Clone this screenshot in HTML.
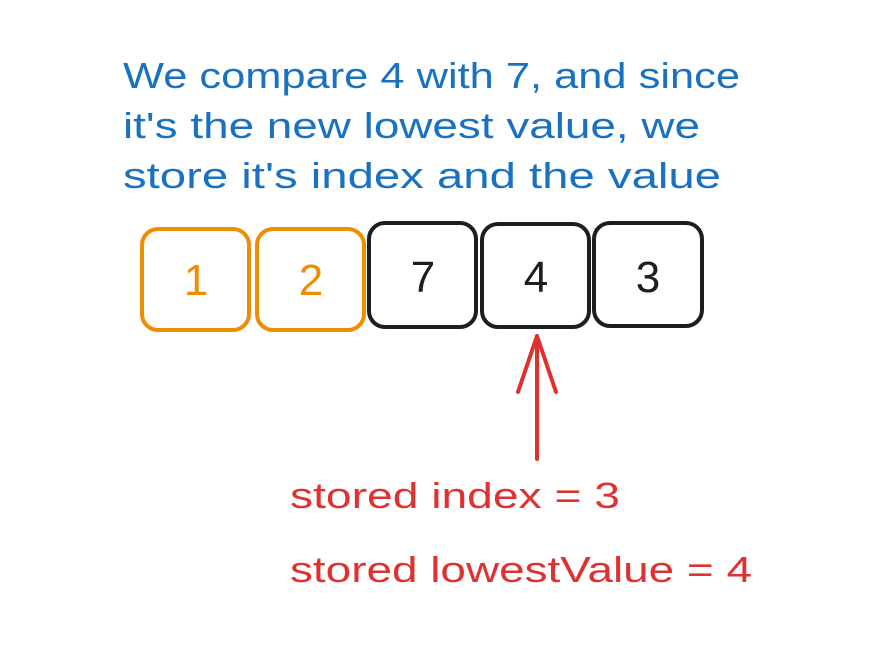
<!DOCTYPE html>
<html><head><style>html,body{margin:0;padding:0;background:#fff}svg{display:block}</style></head>
<body>
<svg width="876" height="654" viewBox="0 0 876 654" xmlns="http://www.w3.org/2000/svg">
<rect width="876" height="654" fill="#fff"/>
<g font-family="Liberation Sans, sans-serif" fill="#1971c2" font-size="36">
<text x="123" y="88" textLength="617" lengthAdjust="spacingAndGlyphs">We compare 4 with 7, and since</text>
<text x="123" y="138" textLength="577" lengthAdjust="spacingAndGlyphs">it's the new lowest value, we</text>
<text x="123" y="188" textLength="598" lengthAdjust="spacingAndGlyphs">store it's index and the value</text>
</g>
<g fill="none" stroke-width="4">
<rect x="142" y="229" width="107" height="101" rx="16" stroke="#f08c00"/>
<rect x="257" y="229" width="107" height="101" rx="16" stroke="#f08c00"/>
<rect x="369" y="223" width="107" height="104" rx="16" stroke="#1e1e1e"/>
<rect x="482" y="224" width="107" height="103" rx="16" stroke="#1e1e1e"/>
<rect x="594" y="223" width="108" height="103" rx="16" stroke="#1e1e1e"/>
</g>
<g font-family="Liberation Sans, sans-serif" font-size="44" text-anchor="middle">
<text x="196" y="295" fill="#f08c00">1</text>
<text x="311" y="295" fill="#f08c00">2</text>
<text x="423" y="292" fill="#1e1e1e">7</text>
<text x="536" y="292" fill="#1e1e1e">4</text>
<text x="648" y="292" fill="#1e1e1e">3</text>
</g>
<g stroke="#e03131" stroke-width="4" stroke-linecap="round" fill="none">
<line x1="537" y1="336" x2="537" y2="459"/>
<line x1="537" y1="336" x2="518" y2="392"/>
<line x1="537" y1="336" x2="556" y2="392"/>
</g>
<g font-family="Liberation Sans, sans-serif" fill="#e03131" font-size="36">
<text x="290" y="508" textLength="330" lengthAdjust="spacingAndGlyphs">stored index = 3</text>
<text x="290" y="582" textLength="462" lengthAdjust="spacingAndGlyphs">stored lowestValue = 4</text>
</g>
</svg>
</body></html>
